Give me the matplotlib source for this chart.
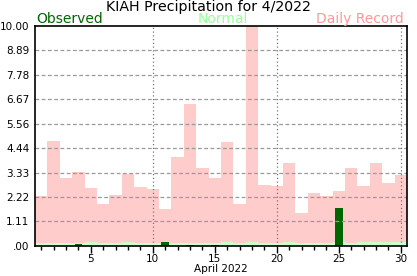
#!/usr/bin/env python
import numpy as np
import matplotlib
matplotlib.use('Agg')
import matplotlib.pyplot as plt

### === Data ===
days = np.arange(1, 31)
record = [2.28, 4.77, 3.09, 3.36, 2.64, 1.92, 2.33, 3.29, 2.70, 2.59,
          1.68, 4.05, 6.45, 3.56, 3.09, 4.73, 1.92, 10.00, 2.77, 2.74,
          3.77, 1.51, 2.41, 2.29, 2.50, 3.56, 2.74, 3.77, 2.86, 3.24]
normal = [0.14, 0.14, 0.14, 0.14, 0.18, 0.14, 0.14, 0.18, 0.14, 0.14,
          0.14, 0.14, 0.14, 0.14, 0.14, 0.18, 0.14, 0.18, 0.14, 0.14,
          0.18, 0.14, 0.14, 0.14, 0.18, 0.14, 0.18, 0.18, 0.18, 0.18]
observed = [0.00, 0.00, 0.00, 0.09, 0.00, 0.00, 0.00, 0.00, 0.00, 0.00,
            0.18, 0.00, 0.05, 0.00, 0.05, 0.00, 0.00, 0.00, 0.00, 0.00,
            0.00, 0.00, 0.00, 0.00, 1.74, 0.00, 0.00, 0.00, 0.00, 0.00]
yticks = [0.0, 1.11, 2.22, 3.33, 4.44, 5.56, 6.67, 7.78, 8.89, 10.0]
ylabels = ['.00', '1.11', '2.22', '3.33', '4.44', '5.56', '6.67', '7.78', '8.89', '10.00']

plt.rcParams['font.family'] = 'DejaVu Sans'

fig = plt.figure(figsize=(4.17, 2.76), dpi=100)
ax = fig.add_axes([0.084, 0.109, 0.892, 0.797])

ax.bar(days, record, width=1.0, color='#ffcccc', zorder=1)
ax.bar(days, normal, width=1.0, color='#ccffcc', zorder=2)
ax.bar(days, observed, width=0.62, color='#006600', zorder=3)

# grid lines
for y in yticks[1:-1]:
    ax.axhline(y, color='#999999', linestyle=(0, (3, 2)), linewidth=0.9, zorder=4)
for x in [10, 20, 30]:
    ax.axvline(x, color='#777777', linestyle=(0, (1, 2)), linewidth=0.9, zorder=4)

ax.set_xlim(0.5, 30.5)
ax.set_ylim(0, 10)
ax.set_yticks(yticks)
ax.set_yticklabels(ylabels)
ax.set_xticks([5, 10, 15, 20, 25, 30])
ax.set_xticks(days, minor=True)
ax.tick_params(axis='y', length=0, labelsize=7.5, pad=4)
ax.tick_params(axis='x', which='major', length=5, width=1, labelsize=7.5, pad=1)
ax.tick_params(axis='x', which='minor', length=3, width=1)
for s in ax.spines.values():
    s.set_linewidth(1.2)
    s.set_zorder(5)
ax.set_xlabel('April 2022', fontsize=7.5, labelpad=-0.5)

fig.text(0.5, 1.0, 'KIAH Precipitation for 4/2022', ha='center', va='top', fontsize=10.2)
fig.text(0.086, 0.915, 'Observed', ha='left', va='baseline', color='#006600', fontsize=10)
fig.text(0.535, 0.915, 'Normal', ha='center', va='baseline', color='#99ff99', fontsize=10)
fig.text(0.968, 0.915, 'Daily Record', ha='right', va='baseline', color='#ff9999', fontsize=10)

fig.savefig('out.png', dpi=100)
